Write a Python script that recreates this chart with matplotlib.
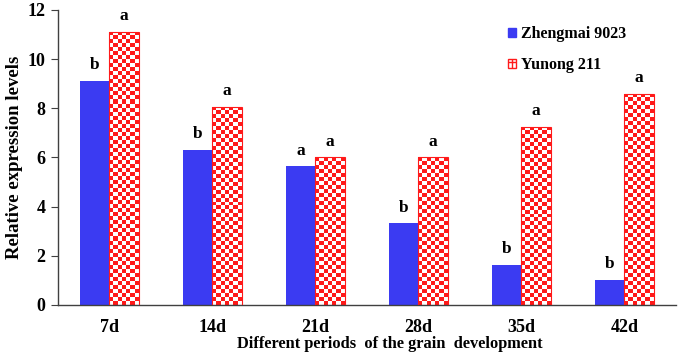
import matplotlib.pyplot as plt
import numpy as np
from matplotlib.patches import Patch

plt.rcParams["font.family"] = ["Liberation Serif", "DejaVu Serif"]
plt.rcParams["font.weight"] = "bold"

periods = ["7d", "14d", "21d", "28d", "35d", "42d"]
zhengmai = [9.12, 6.32, 5.65, 3.32, 1.64, 1.02]
yunong = [11.12, 8.07, 6.0, 6.0, 7.25, 8.6]
letters_z = ["b", "b", "a", "b", "b", "b"]
letters_y = ["a", "a", "a", "a", "a", "a"]

BLUE = "#3b3bf2"
RED = "#ff1a1a"
WIDTH = 0.287
CELL_PX = 4.0

fig = plt.figure(figsize=(6.8, 3.57), dpi=100)
ax = fig.add_axes([0.085, 0.146, 0.909, 0.826])

x = np.arange(len(periods))
bars_z = ax.bar(x - WIDTH / 2, zhengmai, WIDTH, color=BLUE, label="Zhengmai 9023")
bars_y = ax.bar(x + WIDTH / 2, yunong, WIDTH, facecolor="none", edgecolor=RED,
                linewidth=0.8, label="Yunong 211", zorder=3)

ax.set_xlim(-0.5, len(periods) - 0.5)
ax.set_ylim(0, 12)

# checkerboard texture inside the red bars
ax_w_px = 0.909 * 680
ax_h_px = 0.826 * 357
for b in bars_y:
    x0, w, h = b.get_x(), b.get_width(), b.get_height()
    ncol = max(1, int(round(w / 6 * ax_w_px / CELL_PX)))
    nrow = max(1, int(round(h / 12 * ax_h_px / CELL_PX)))
    checker = (np.add.outer(np.arange(nrow), np.arange(ncol)) % 2).astype(float)
    img = np.ones((nrow, ncol, 3))
    img[checker == 0] = [1.0, 0.1, 0.1]
    im = ax.imshow(img, extent=(x0, x0 + w, 0, h), aspect="auto",
                   interpolation="nearest", zorder=2)
    im.set_clip_path(b)
ax.set_xlim(-0.5, len(periods) - 0.5)
ax.set_ylim(0, 12)
ax.set_aspect("auto")

for b, t in zip(bars_z, letters_z):
    ax.text(b.get_x() + b.get_width() / 2, b.get_height() + 0.3, t,
            ha="center", va="bottom", fontsize=12.5, fontweight="bold")
for b, t in zip(bars_y, letters_y):
    ax.text(b.get_x() + b.get_width() / 2, b.get_height() + 0.3, t,
            ha="center", va="bottom", fontsize=12.5, fontweight="bold")

ax.set_xticks(x)
ax.set_xticklabels(periods)
ax.set_yticks(np.arange(0, 13, 2))
ax.tick_params(axis="x", length=0, pad=10, labelsize=13)
ax.tick_params(axis="y", length=5, direction="out", pad=4, labelsize=13,
               color="#404040")
for lab in ax.get_xticklabels() + ax.get_yticklabels():
    lab.set_fontweight("bold")

for s in ["top", "right"]:
    ax.spines[s].set_visible(False)
for s in ["left", "bottom"]:
    ax.spines[s].set_color("#404040")
    ax.spines[s].set_linewidth(1.0)

ax.set_xlabel("Different periods  of the grain  development", fontsize=11.8,
              fontweight="bold", labelpad=0)
ax.xaxis.label.set_x(0.537)
ax.set_ylabel("Relative expression levels", fontsize=13.5, fontweight="bold",
              labelpad=3)

handles = [Patch(facecolor=BLUE, edgecolor=BLUE),
           Patch(facecolor="white", edgecolor=RED, hatch="++")]
leg = fig.legend(handles, ["Zhengmai 9023", "Yunong 211"], loc="upper left",
                 bbox_to_anchor=(508 / 680, 1 - 26 / 357),
                 bbox_transform=fig.transFigure, frameon=False, fontsize=11.5,
                 handlelength=0.5, handleheight=0.5, handletextpad=0.3,
                 labelspacing=0.95, borderpad=0, borderaxespad=0)
for t in leg.get_texts():
    t.set_fontweight("bold")

fig.savefig("out.png", dpi=100)
